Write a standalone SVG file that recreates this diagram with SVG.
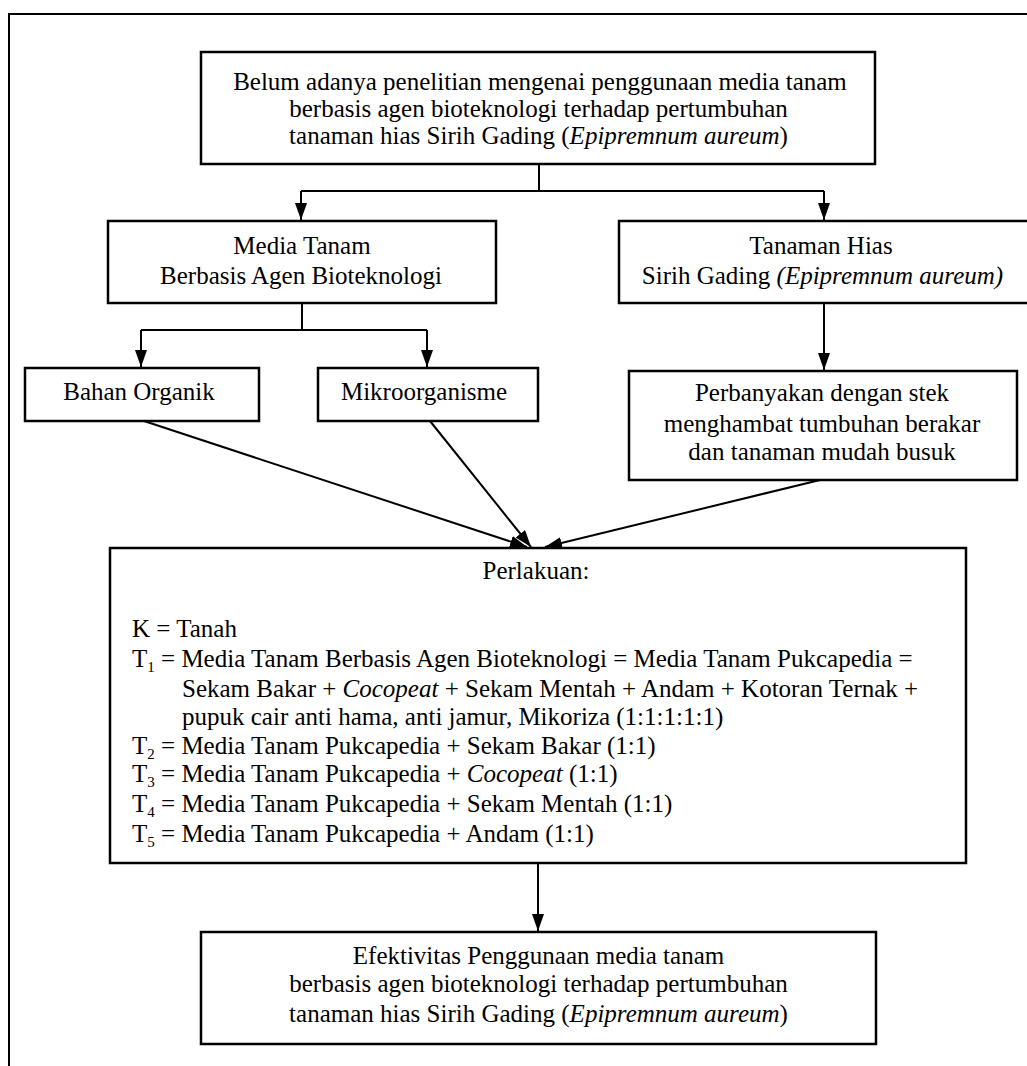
<svg xmlns="http://www.w3.org/2000/svg" width="1027" height="1066" viewBox="0 0 1027 1066">
<style>
text{font-family:"Liberation Serif","Times New Roman",serif;font-size:25px;fill:#000}
.c{text-anchor:middle}
.i{font-style:italic}
.box{fill:#fff;stroke:#000;stroke-width:2.5}
.ln{fill:none;stroke:#000;stroke-width:2}
</style>
<defs>
<marker id="ah" markerUnits="userSpaceOnUse" markerWidth="18" markerHeight="12" refX="17" refY="6" orient="auto">
<path d="M0,0 L17,6 L0,12 z" fill="#000"/>
</marker>
</defs>
<rect width="1027" height="1066" fill="#fff"/>
<path d="M9,1066 V14 H1027" fill="none" stroke="#000" stroke-width="2"/>
<g id="connectors">
<path class="ln" d="M539,164 V191 M301,191 H824"/>
<path class="ln" d="M301,191 V220" marker-end="url(#ah)"/>
<path class="ln" d="M824,191 V220" marker-end="url(#ah)"/>
<path class="ln" d="M302,303 V330 M141,330 H427"/>
<path class="ln" d="M141,330 V367" marker-end="url(#ah)"/>
<path class="ln" d="M427,330 V367" marker-end="url(#ah)"/>
<path class="ln" d="M824,303 V370" marker-end="url(#ah)"/>
<path class="ln" d="M144,421 L527,547" marker-end="url(#ah)"/>
<path class="ln" d="M430,421 L531,547" marker-end="url(#ah)"/>
<path class="ln" d="M820,480 L545,547" marker-end="url(#ah)"/>
<path class="ln" d="M538,863 V931" marker-end="url(#ah)"/>
</g>
<g id="n-top">
<rect class="box" x="201" y="52" width="674" height="112"/>
<text class="c" x="540" y="90">Belum adanya penelitian mengenai penggunaan media tanam</text>
<text class="c" x="538.5" y="117">berbasis agen bioteknologi terhadap pertumbuhan</text>
<text class="c" x="538.5" y="144">tanaman hias Sirih Gading (<tspan class="i">Epipremnum aureum</tspan>)</text>
</g>
<g id="n-media">
<rect class="box" x="108" y="221" width="388" height="82"/>
<text class="c" x="302" y="254">Media Tanam</text>
<text class="c" x="301" y="284">Berbasis Agen Bioteknologi</text>
</g>
<g id="n-tanaman">
<rect class="box" x="619" y="221" width="412" height="82"/>
<text class="c" x="821" y="254">Tanaman Hias</text>
<text class="c" x="822.5" y="284">Sirih Gading <tspan class="i">(Epipremnum aureum)</tspan></text>
</g>
<g id="n-bahan">
<rect class="box" x="25" y="368" width="234" height="53"/>
<text class="c" x="139" y="400">Bahan Organik</text>
</g>
<g id="n-mikro">
<rect class="box" x="318" y="368" width="220" height="53"/>
<text class="c" x="424" y="400">Mikroorganisme</text>
</g>
<g id="n-perbanyakan">
<rect class="box" x="629" y="371" width="388" height="109"/>
<text class="c" x="822" y="401">Perbanyakan dengan stek</text>
<text class="c" x="822" y="432">menghambat tumbuhan berakar</text>
<text class="c" x="822" y="460">dan tanaman mudah busuk</text>
</g>
<g id="n-perlakuan">
<rect class="box" x="110" y="548" width="856" height="315"/>
<text class="c" x="536" y="579">Perlakuan:</text>
<text x="132" y="637">K = Tanah</text>
<text x="132" y="667">T<tspan font-size="15" dy="5">1</tspan><tspan dy="-5"> = Media Tanam Berbasis Agen Bioteknologi = Media Tanam Pukcapedia =</tspan></text>
<text x="182" y="697">Sekam Bakar + <tspan class="i">Cocopeat</tspan> + Sekam Mentah + Andam + Kotoran Ternak +</text>
<text x="182" y="725">pupuk cair anti hama, anti jamur, Mikoriza (1:1:1:1:1)</text>
<text x="132" y="754">T<tspan font-size="15" dy="5">2</tspan><tspan dy="-5"> = Media Tanam Pukcapedia + Sekam Bakar (1:1)</tspan></text>
<text x="132" y="782">T<tspan font-size="15" dy="5">3</tspan><tspan dy="-5"> = Media Tanam Pukcapedia + </tspan><tspan class="i">Cocopeat</tspan> (1:1)</text>
<text x="132" y="812">T<tspan font-size="15" dy="5">4</tspan><tspan dy="-5"> = Media Tanam Pukcapedia + Sekam Mentah (1:1)</tspan></text>
<text x="132" y="842">T<tspan font-size="15" dy="5">5</tspan><tspan dy="-5"> = Media Tanam Pukcapedia + Andam (1:1)</tspan></text>
</g>
<g id="n-efektivitas">
<rect class="box" x="201" y="932" width="675" height="112"/>
<text class="c" x="538.5" y="964">Efektivitas Penggunaan media tanam</text>
<text class="c" x="538.5" y="992">berbasis agen bioteknologi terhadap pertumbuhan</text>
<text class="c" x="538.5" y="1022">tanaman hias Sirih Gading (<tspan class="i">Epipremnum aureum</tspan>)</text>
</g>
</svg>
